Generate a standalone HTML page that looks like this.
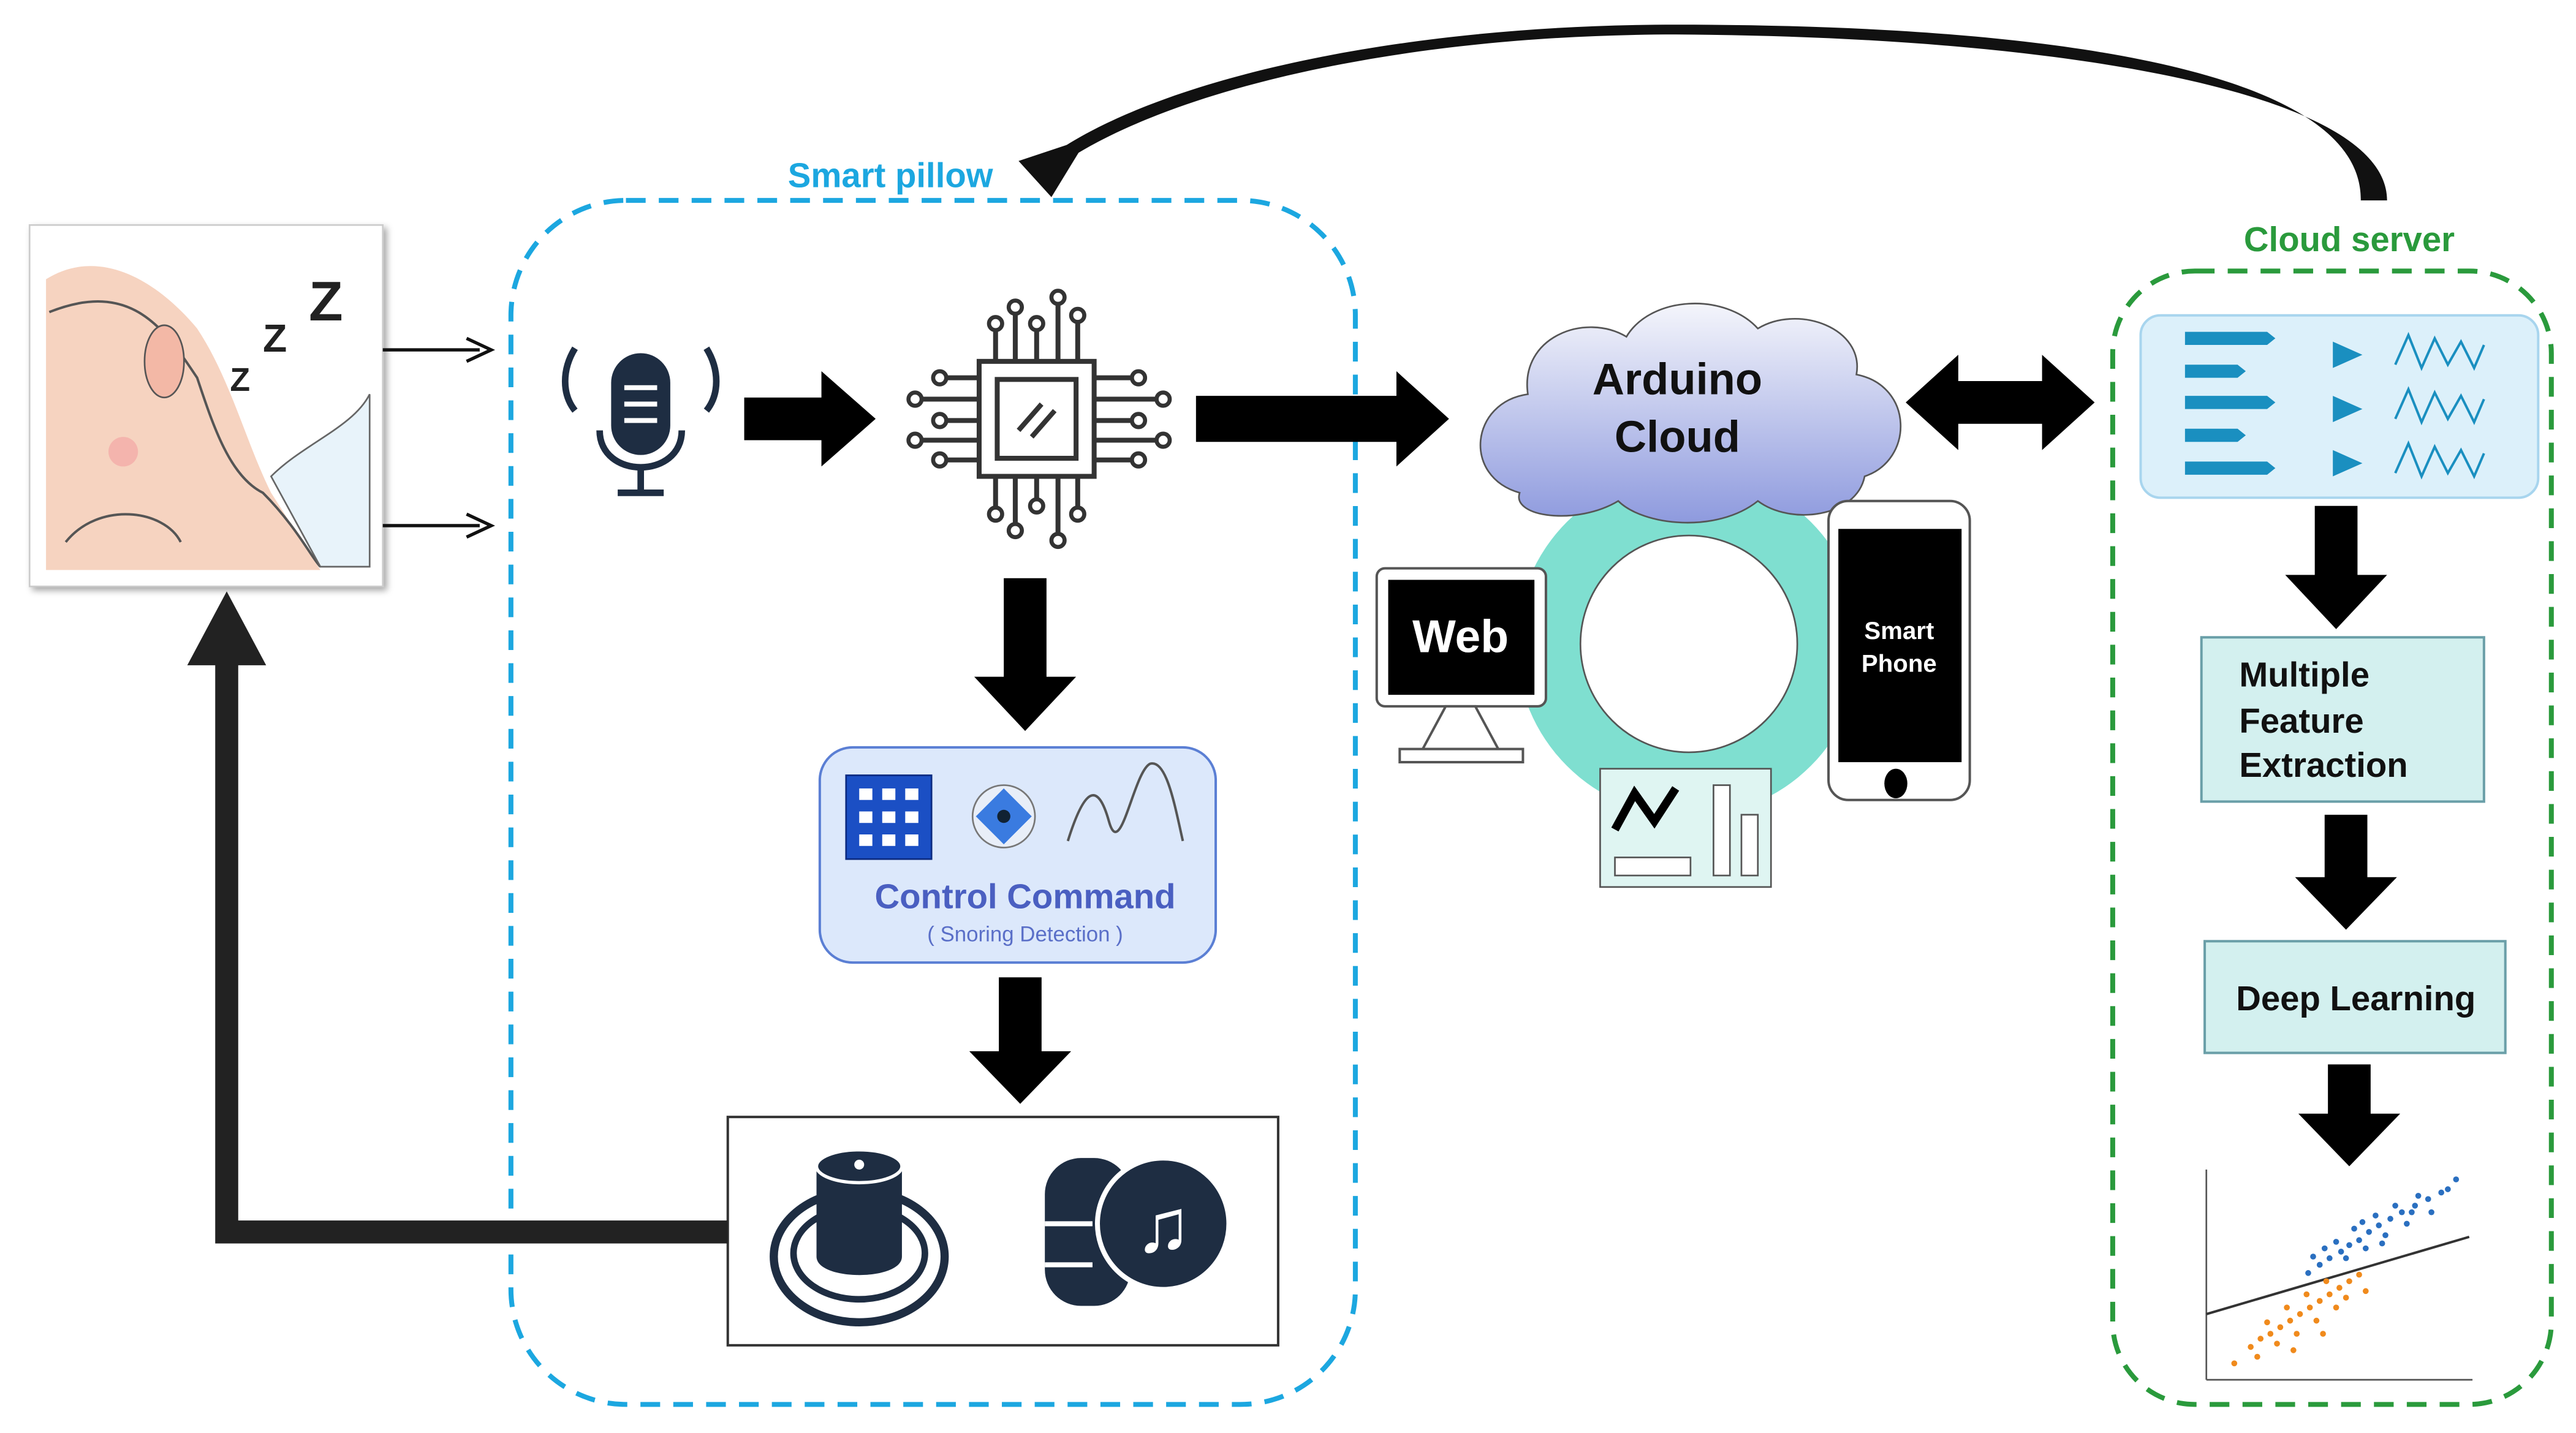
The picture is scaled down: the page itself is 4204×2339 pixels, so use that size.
<!DOCTYPE html>
<html><head><meta charset="utf-8"><style>
html,body{margin:0;padding:0;background:#fff;}
svg{display:block;}
text{font-family:"Liberation Sans",Arial,sans-serif;}
</style></head><body>
<svg width="4204" height="2339" viewBox="0 0 1568 872.4" xmlns="http://www.w3.org/2000/svg">
<defs>
<linearGradient id="cg" x1="0" y1="0" x2="0" y2="1"><stop offset="0" stop-color="#f4f5fb"/><stop offset="1" stop-color="#8e9ade"/></linearGradient>
<filter id="sh"><feDropShadow dx="2" dy="2" stdDeviation="2" flood-opacity="0.35"/></filter>
</defs>
<rect width="1568" height="873" fill="#fff"/>

<!-- top curved arrow -->
<path d="M1453,122 C1453,55 1250,22 1020,21 C860,21 720,52 650,97 L645,91 C715,45 860,15 1020,15 C1260,15 1438,45 1437,122 Z" fill="#111"/>
<polygon points="620,98 662,84 640,120" fill="#111"/>

<!-- sleeping face box -->
<rect x="18" y="137" width="215" height="220" fill="#fff" stroke="#ccc" filter="url(#sh)"/>
<path d="M28,170 C60,150 95,170 120,200 C140,230 150,270 165,300 L195,347 L28,347 Z" fill="#f6d3c0"/>
<path d="M30,190 C80,170 100,200 120,230 C130,260 140,290 160,300 C180,320 190,340 195,345" fill="none" stroke="#555" stroke-width="1.5"/>
<path d="M40,330 C60,305 100,310 110,330" fill="none" stroke="#555" stroke-width="1.5"/>
<ellipse cx="100" cy="220" rx="12" ry="22" fill="#f3b8a6" stroke="#555"/>
<circle cx="75" cy="275" r="9" fill="#f4a0a0" opacity="0.6"/>
<path d="M165,290 C185,270 215,260 225,240 L225,345 L195,345 Z" fill="#e8f3fa" stroke="#666"/>
<text x="188" y="195" font-size="34" font-weight="bold" fill="#222">Z</text>
<text x="160" y="214" font-size="24" font-weight="bold" fill="#222">Z</text>
<text x="140" y="238" font-size="20" font-weight="bold" fill="#222">Z</text>

<!-- small arrows -->
<line x1="233" y1="213" x2="292" y2="213" stroke="#111" stroke-width="2"/>
<polyline points="284,206 299,213 284,220" fill="none" stroke="#111" stroke-width="2"/>
<line x1="233" y1="320" x2="292" y2="320" stroke="#111" stroke-width="2"/>
<polyline points="284,313 299,320 284,327" fill="none" stroke="#111" stroke-width="2"/>

<!-- smart pillow -->
<rect x="311" y="122" width="514" height="733" rx="70" fill="none" stroke="#1ca7e0" stroke-width="3" stroke-dasharray="12,8"/>
<text x="542" y="114" font-size="21" font-weight="bold" fill="#1ca7e0" text-anchor="middle">Smart pillow</text>

<!-- mic -->
<rect x="372" y="215" width="36" height="62" rx="18" fill="#1e2d42"/>
<line x1="380" y1="236" x2="400" y2="236" stroke="#fff" stroke-width="3"/>
<line x1="380" y1="246" x2="400" y2="246" stroke="#fff" stroke-width="3"/>
<line x1="380" y1="256" x2="400" y2="256" stroke="#fff" stroke-width="3"/>
<path d="M365,262 C365,292 415,292 415,262" fill="none" stroke="#1e2d42" stroke-width="4"/>
<line x1="390" y1="285" x2="390" y2="298" stroke="#1e2d42" stroke-width="4"/>
<line x1="376" y1="300" x2="404" y2="300" stroke="#1e2d42" stroke-width="4"/>
<path d="M350,212 C342,225 342,240 350,250" fill="none" stroke="#1e2d42" stroke-width="4"/>
<path d="M430,212 C438,225 438,240 430,250" fill="none" stroke="#1e2d42" stroke-width="4"/>

<!-- arrows -->
<polygon points="453,242 500,242 500,226 533,255 500,284 500,268 453,268" fill="#000"/>
<polygon points="728,241 850,241 850,226 882,255 850,284 850,269 728,269" fill="#000"/>

<!-- chip -->
<g stroke="#333" stroke-width="3" fill="none">
<rect x="596" y="220" width="70" height="70" fill="#fff"/>
<rect x="607" y="231" width="48" height="48"/>
<line x1="620" y1="262" x2="634" y2="246"/><line x1="628" y1="266" x2="642" y2="250"/>
<path d="M606,220 V200 M618,220 V190 M631,220 V200 M644,220 V185 M656,220 V195"/>
<path d="M606,290 V310 M618,290 V320 M631,290 V305 M644,290 V325 M656,290 V310"/>
<path d="M596,230 H575 M596,243 H560 M596,256 H575 M596,268 H560 M596,280 H575"/>
<path d="M666,230 H690 M666,243 H705 M666,256 H690 M666,268 H705 M666,280 H690"/>
</g>
<g fill="#fff" stroke="#333" stroke-width="2.5">
<circle cx="606" cy="197" r="4"/><circle cx="618" cy="187" r="4"/><circle cx="631" cy="197" r="4"/><circle cx="644" cy="181" r="4"/><circle cx="656" cy="192" r="4"/>
<circle cx="606" cy="313" r="4"/><circle cx="618" cy="323" r="4"/><circle cx="631" cy="308" r="4"/><circle cx="644" cy="329" r="4"/><circle cx="656" cy="313" r="4"/>
<circle cx="572" cy="230" r="4"/><circle cx="557" cy="243" r="4"/><circle cx="572" cy="256" r="4"/><circle cx="557" cy="268" r="4"/><circle cx="572" cy="280" r="4"/>
<circle cx="693" cy="230" r="4"/><circle cx="708" cy="243" r="4"/><circle cx="693" cy="256" r="4"/><circle cx="708" cy="268" r="4"/><circle cx="693" cy="280" r="4"/>
</g>

<polygon points="611,352 637,352 637,412 655,412 624,445 593,412 611,412" fill="#000"/>

<!-- control command -->
<rect x="499" y="455" width="241" height="131" rx="20" fill="#dce8fb" stroke="#5b7fd4" stroke-width="1.5"/>
<rect x="515" y="472" width="52" height="51" fill="#1b4fc4" stroke="#0b2a80"/>
<g fill="#fff"><rect x="523" y="480" width="8" height="7"/><rect x="537" y="480" width="8" height="7"/><rect x="551" y="480" width="8" height="7"/><rect x="523" y="494" width="8" height="7"/><rect x="537" y="494" width="8" height="7"/><rect x="551" y="494" width="8" height="7"/><rect x="523" y="508" width="8" height="7"/><rect x="537" y="508" width="8" height="7"/><rect x="551" y="508" width="8" height="7"/></g>
<circle cx="611" cy="497" r="19" fill="#e8eef8" stroke="#777"/>
<polygon points="611,480 628,497 611,514 594,497" fill="#3a7be0"/>
<circle cx="611" cy="497" r="4" fill="#123"/>
<path d="M650,512 C660,480 668,475 675,500 C682,525 690,470 700,465 C710,462 715,490 720,512" fill="none" stroke="#555" stroke-width="1.5"/>
<text x="624" y="553" font-size="21" font-weight="bold" fill="#4a5fc1" text-anchor="middle">Control Command</text>
<text x="624" y="573" font-size="13" fill="#5a6fc8" text-anchor="middle">( Snoring Detection )</text>

<polygon points="608,595 634,595 634,640 652,640 621,672 590,640 608,640" fill="#000"/>

<!-- speaker box -->
<rect x="443" y="680" width="335" height="139" fill="#fff" stroke="#333" stroke-width="1.5"/>
<ellipse cx="523" cy="765" rx="52" ry="40" fill="none" stroke="#1e2d42" stroke-width="5"/>
<ellipse cx="523" cy="763" rx="40" ry="28" fill="none" stroke="#1e2d42" stroke-width="4"/>
<path d="M497,712 V765 C497,780 549,780 549,765 V712 Z" fill="#1e2d42"/>
<ellipse cx="523" cy="710" rx="26" ry="10" fill="#1e2d42" stroke="#fff" stroke-width="2"/>
<circle cx="523" cy="709" r="3" fill="#fff"/>
<rect x="636" y="705" width="52" height="90" rx="22" fill="#1e2d42"/>
<line x1="636" y1="745" x2="665" y2="745" stroke="#fff" stroke-width="3"/>
<line x1="636" y1="770" x2="665" y2="770" stroke="#fff" stroke-width="3"/>
<circle cx="708" cy="745" r="40" fill="#1e2d42" stroke="#fff" stroke-width="3"/>
<text x="708" y="762" font-size="46" fill="#fff" text-anchor="middle" font-family="DejaVu Sans">♫</text>

<!-- feedback arrow -->
<polyline points="443,750 138,750 138,395" fill="none" stroke="#222" stroke-width="14"/>
<polygon points="114,405 138,360 162,405" fill="#222"/>

<!-- Arduino cloud -->
<circle cx="1028" cy="392" r="105" fill="#7fdfd0"/>
<circle cx="1028" cy="392" r="66" fill="#fff" stroke="#555" stroke-width="1"/>
<path d="M925,300 C890,290 895,245 930,240 C925,205 965,190 990,205 C1005,180 1050,178 1070,200 C1095,185 1135,200 1130,228 C1165,235 1165,280 1135,290 C1130,315 1090,320 1070,305 C1045,325 1000,320 985,305 C960,320 920,315 925,300 Z" fill="url(#cg)" stroke="#555" stroke-width="1"/>
<text x="1021" y="240" font-size="27" font-weight="bold" fill="#111" text-anchor="middle">Arduino</text>
<text x="1021" y="275" font-size="27" font-weight="bold" fill="#111" text-anchor="middle">Cloud</text>

<!-- web monitor -->
<rect x="838" y="346" width="103" height="84" rx="5" fill="#fff" stroke="#555" stroke-width="1.5"/>
<rect x="845" y="353" width="89" height="70" fill="#000"/>
<text x="889" y="397" font-size="28" font-weight="bold" fill="#fff" text-anchor="middle">Web</text>
<polygon points="880,430 898,430 912,456 866,456" fill="#fff" stroke="#555" stroke-width="1.5"/>
<rect x="852" y="456" width="75" height="8" fill="#fff" stroke="#555" stroke-width="1.5"/>

<!-- phone -->
<rect x="1113" y="305" width="86" height="182" rx="12" fill="#fff" stroke="#555" stroke-width="1.5"/>
<rect x="1119" y="322" width="75" height="142" fill="#000"/>
<text x="1156" y="389" font-size="15" font-weight="bold" fill="#fff" text-anchor="middle">Smart</text>
<text x="1156" y="409" font-size="15" font-weight="bold" fill="#fff" text-anchor="middle">Phone</text>
<ellipse cx="1154" cy="477" rx="7" ry="9" fill="#000"/>

<!-- chart -->
<rect x="974" y="468" width="104" height="72" fill="#dff5f2" stroke="#555" stroke-width="1"/>
<polyline points="983,505 995,483 1007,500 1020,480" fill="none" stroke="#000" stroke-width="5"/>
<rect x="983" y="522" width="46" height="11" fill="#fff" stroke="#555"/>
<rect x="1043" y="478" width="10" height="55" fill="#fff" stroke="#555"/>
<rect x="1060" y="496" width="10" height="37" fill="#fff" stroke="#555"/>

<!-- double arrow -->
<polygon points="1160,245 1192,216 1192,232 1243,232 1243,216 1275,245 1243,274 1243,258 1192,258 1192,274" fill="#000"/>

<!-- cloud server -->
<rect x="1286" y="165" width="267" height="690" rx="50" fill="none" stroke="#2a9a3c" stroke-width="3" stroke-dasharray="12,8"/>
<text x="1430" y="153" font-size="21" font-weight="bold" fill="#2a9a3c" text-anchor="middle">Cloud server</text>

<rect x="1303" y="192" width="242" height="111" rx="12" fill="#dcf0fa" stroke="#a8d5ee" stroke-width="1.5"/>
<g fill="#1a8fc0">
<polygon points="1330,202 1380,202 1385,206 1380,210 1330,210"/>
<polygon points="1330,222 1362,222 1367,226 1362,230 1330,230"/>
<polygon points="1330,241 1380,241 1385,245 1380,249 1330,249"/>
<polygon points="1330,261 1362,261 1367,265 1362,269 1330,269"/>
<polygon points="1330,281 1380,281 1385,285 1380,289 1330,289"/>
<polygon points="1420,208 1438,216 1420,224"/>
<polygon points="1420,241 1438,249 1420,257"/>
<polygon points="1420,274 1438,282 1420,290"/>
</g>
<g fill="none" stroke="#1a8fc0" stroke-width="1.5">
<path d="M1458,222 L1466,204 L1474,224 L1482,206 L1490,222 L1498,208 L1506,224 L1512,210"/>
<path d="M1458,255 L1466,237 L1474,257 L1482,239 L1490,255 L1498,241 L1506,257 L1512,243"/>
<path d="M1458,288 L1466,270 L1474,290 L1482,272 L1490,288 L1498,274 L1506,290 L1512,276"/>
</g>

<polygon points="1409,308 1435,308 1435,350 1453,350 1422,383 1391,350 1409,350" fill="#000"/>
<rect x="1340" y="388" width="172" height="100" fill="#d3f0ef" stroke="#6a9fa8" stroke-width="1.5"/>
<text x="1363" y="418" font-size="21" font-weight="bold" fill="#111">Multiple</text>
<text x="1363" y="446" font-size="21" font-weight="bold" fill="#111">Feature</text>
<text x="1363" y="473" font-size="21" font-weight="bold" fill="#111">Extraction</text>

<polygon points="1415,496 1441,496 1441,534 1459,534 1428,566 1397,534 1415,534" fill="#000"/>
<rect x="1342" y="573" width="183" height="68" fill="#d3f0ef" stroke="#6a9fa8" stroke-width="1.5"/>
<text x="1434" y="615" font-size="21" font-weight="bold" fill="#111" text-anchor="middle">Deep Learning</text>

<polygon points="1417,648 1443,648 1443,678 1461,678 1430,710 1399,678 1417,678" fill="#000"/>

<!-- scatter -->
<line x1="1343" y1="712" x2="1343" y2="840" stroke="#555" stroke-width="1"/>
<line x1="1343" y1="840" x2="1505" y2="840" stroke="#555" stroke-width="1"/>
<line x1="1343" y1="800" x2="1503" y2="753" stroke="#333" stroke-width="1.5"/>
<g fill="#2a6fc0">
<circle cx="1405" cy="775" r="1.8"/><circle cx="1412" cy="770" r="1.8"/><circle cx="1418" cy="766" r="1.8"/><circle cx="1425" cy="762" r="1.8"/><circle cx="1430" cy="758" r="1.8"/><circle cx="1436" cy="755" r="1.8"/><circle cx="1442" cy="750" r="1.8"/><circle cx="1448" cy="746" r="1.8"/><circle cx="1455" cy="742" r="1.8"/><circle cx="1462" cy="738" r="1.8"/><circle cx="1470" cy="734" r="1.8"/><circle cx="1478" cy="730" r="1.8"/><circle cx="1486" cy="726" r="1.8"/><circle cx="1495" cy="718" r="1.8"/>
<circle cx="1415" cy="760" r="1.8"/><circle cx="1422" cy="756" r="1.8"/><circle cx="1428" cy="766" r="1.8"/><circle cx="1433" cy="748" r="1.8"/><circle cx="1440" cy="760" r="1.8"/><circle cx="1446" cy="740" r="1.8"/><circle cx="1452" cy="752" r="1.8"/><circle cx="1458" cy="734" r="1.8"/><circle cx="1465" cy="745" r="1.8"/><circle cx="1472" cy="728" r="1.8"/><circle cx="1480" cy="738" r="1.8"/><circle cx="1490" cy="724" r="1.8"/><circle cx="1438" cy="744" r="1.8"/><circle cx="1450" cy="757" r="1.8"/><circle cx="1468" cy="738" r="1.8"/><circle cx="1408" cy="765" r="1.8"/>
</g>
<g fill="#f08a1c">
<circle cx="1370" cy="820" r="1.8"/><circle cx="1376" cy="815" r="1.8"/><circle cx="1382" cy="812" r="1.8"/><circle cx="1388" cy="808" r="1.8"/><circle cx="1394" cy="804" r="1.8"/><circle cx="1400" cy="800" r="1.8"/><circle cx="1406" cy="796" r="1.8"/><circle cx="1412" cy="792" r="1.8"/><circle cx="1418" cy="788" r="1.8"/><circle cx="1424" cy="784" r="1.8"/><circle cx="1430" cy="780" r="1.8"/><circle cx="1436" cy="776" r="1.8"/>
<circle cx="1380" cy="805" r="1.8"/><circle cx="1386" cy="818" r="1.8"/><circle cx="1392" cy="796" r="1.8"/><circle cx="1398" cy="812" r="1.8"/><circle cx="1404" cy="788" r="1.8"/><circle cx="1410" cy="804" r="1.8"/><circle cx="1416" cy="780" r="1.8"/><circle cx="1422" cy="796" r="1.8"/><circle cx="1428" cy="790" r="1.8"/><circle cx="1396" cy="822" r="1.8"/><circle cx="1374" cy="826" r="1.8"/><circle cx="1360" cy="830" r="1.8"/><circle cx="1440" cy="786" r="1.8"/><circle cx="1414" cy="812" r="1.8"/>
</g>
</svg>
</body></html>
